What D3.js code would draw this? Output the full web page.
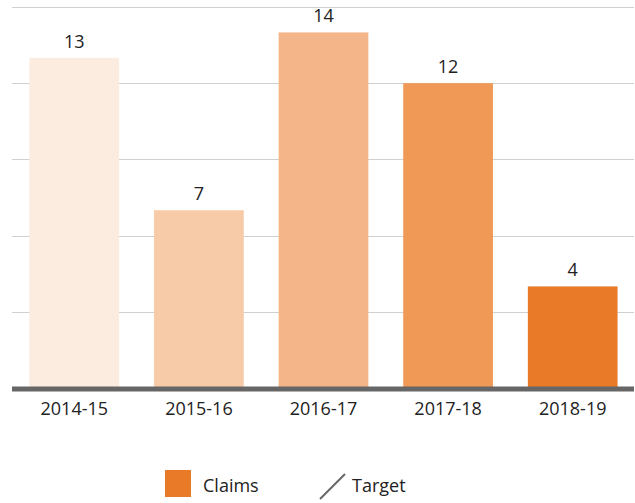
<!DOCTYPE html>
<html lang="en">
<head>
  <meta charset="utf-8">
  <title>Claims by year</title>
  <script src="https://d3js.org/d3.v7.min.js"></script>
  <style>
    body { margin: 0; background: #fff; }
    text { font-family: "Open Sans", "Noto Sans", sans-serif; fill: #222; }
  </style>
</head>
<body>
<div id="chart"></div>
<script>
const years = ['2014-15', '2015-16', '2016-17', '2017-18', '2018-19'];
const claims = [13, 7, 14, 12, 4];
const barColors = ['#fcebdf', '#f8cba8', '#f4b688', '#f09856', '#e87a28'];
const gridTicks = [3, 6, 9, 12, 15];

const width = 635, height = 503;
const base = 388;

let svg = d3.select("#chart").append("svg")
    .attr("width", width)
    .attr("height", height);

let x = d3.scaleBand()
    .domain(years)
    .range([12, 635])
    .paddingInner(0.28)
    .paddingOuter(0.14);

let y = d3.scaleLinear()
    .domain([0, 15])
    .range([base, 7]);

let data = years.map((yr, i) => ({year: yr, value: claims[i], color: barColors[i]}));

// gridlines
svg.append("g")
  .selectAll("line")
  .data(gridTicks)
  .join("line")
    .attr("x1", 12)
    .attr("x2", 634)
    .attr("y1", d => Math.round(y(d)) + 0.5)
    .attr("y2", d => Math.round(y(d)) + 0.5)
    .attr("stroke", "#d0d0d0")
    .attr("stroke-width", 1);

// bars
svg.append("g")
  .selectAll("rect")
  .data(data)
  .join("rect")
    .attr("x", d => x(d.year))
    .attr("y", d => y(d.value))
    .attr("width", x.bandwidth())
    .attr("height", d => base - y(d.value))
    .attr("fill", d => d.color);

// value labels
svg.append("g")
  .selectAll("text")
  .data(data)
  .join("text")
    .attr("x", d => x(d.year) + x.bandwidth() / 2)
    .attr("y", d => y(d.value) - 10)
    .attr("text-anchor", "middle")
    .style("font-size", "18px")
    .text(d => d.value);

// baseline + category axis
let xAxis = d3.axisBottom(x).tickSize(0).tickPadding(14);
svg.append("g")
    .attr("transform", `translate(0,${base})`)
    .call(xAxis)
    .call(g => g.select(".domain").remove())
    .call(g => g.selectAll("text").style("font-size", "18px").attr("fill", "#222"));

svg.append("line")
    .attr("x1", 12)
    .attr("x2", 634)
    .attr("y1", base + 1)
    .attr("y2", base + 1)
    .attr("stroke", "#666")
    .attr("stroke-width", 5);

// legend
let legend = svg.append("g");
legend.append("rect")
    .attr("x", 165)
    .attr("y", 470)
    .attr("width", 26)
    .attr("height", 27)
    .attr("fill", barColors[4]);
legend.append("text")
    .attr("x", 203)
    .attr("y", 492)
    .style("font-size", "18px")
    .text("Claims");
legend.append("line")
    .attr("x1", 320)
    .attr("y1", 499)
    .attr("x2", 345)
    .attr("y2", 474)
    .attr("stroke", "#666")
    .attr("stroke-width", 2);
legend.append("text")
    .attr("x", 352)
    .attr("y", 492)
    .style("font-size", "18px")
    .text("Target");
</script>
</body>
</html>
